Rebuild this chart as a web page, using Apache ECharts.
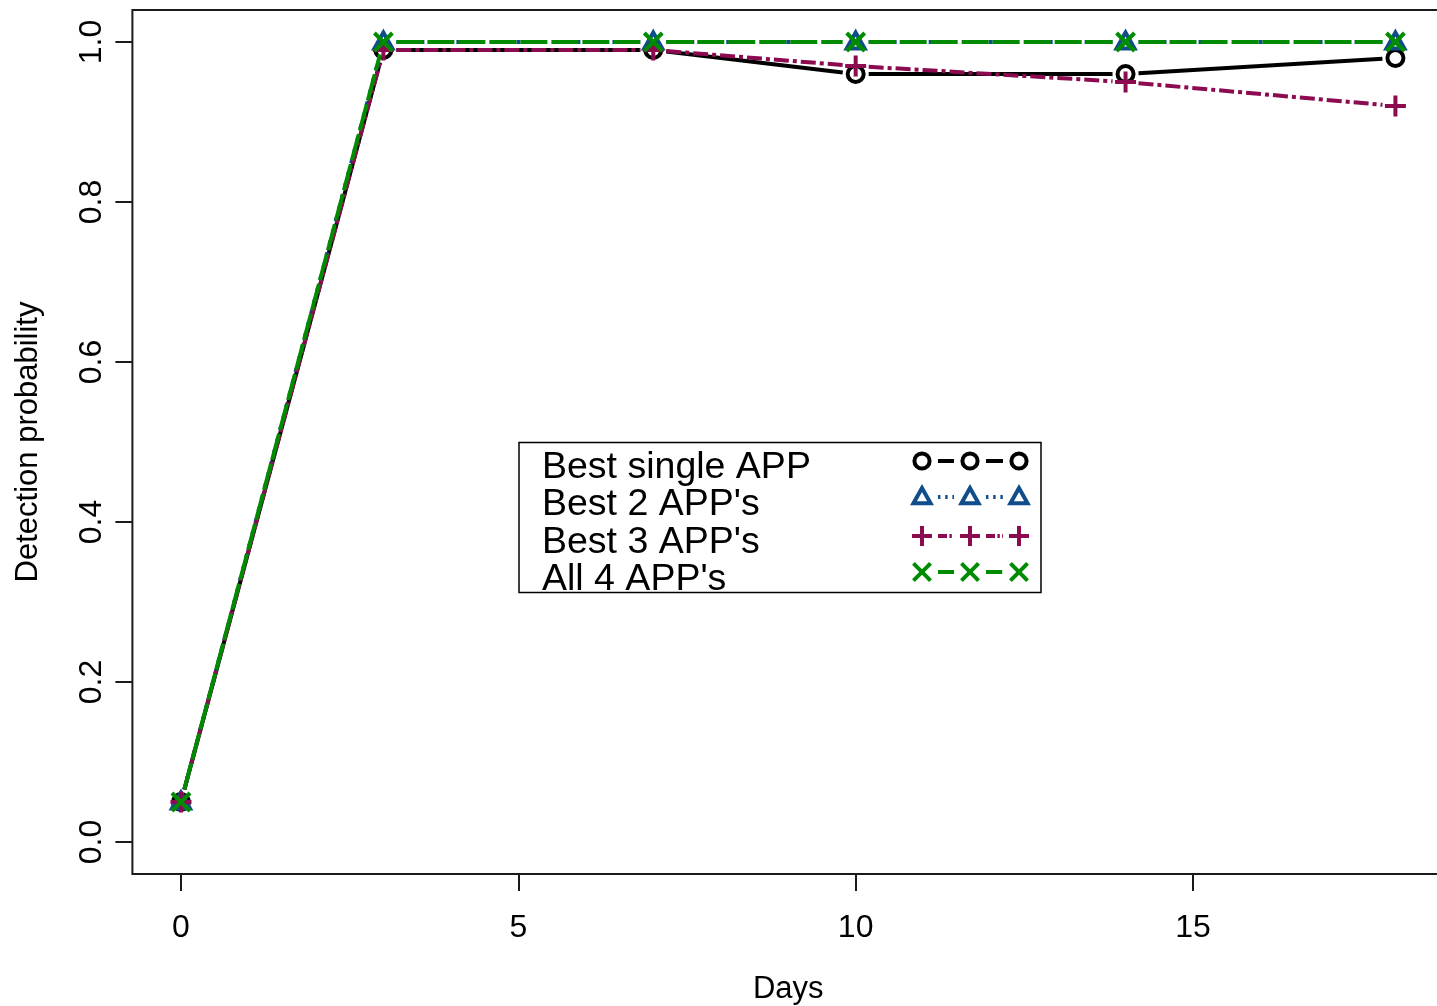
<!DOCTYPE html>
<html>
<head>
<meta charset="utf-8">
<script src="https://cdn.jsdelivr.net/npm/echarts@6/dist/echarts.min.js"></script>
<style>
  html, body { margin: 0; padding: 0; background: #fff; }
  #chart { width: 1437px; height: 1006px; }
</style>
</head>
<body>
<div id="chart"></div>
<script>
// Observation days and detection probabilities per APP combination
const days = [0, 3, 7, 10, 14, 18];
const bestSingle = [0.05, 0.99, 0.99, 0.96, 0.96, 0.98];
const best2 = [0.05, 1.00, 1.00, 1.00, 1.00, 1.00];
const best3 = [0.05, 0.99, 0.99, 0.97, 0.95, 0.92];
const all4 = [0.05, 1.00, 1.00, 1.00, 1.00, 1.00];
const seriesNames = ["Best single APP", "Best 2 APP's", "Best 3 APP's", "All 4 APP's"];
const xTicks = [0, 5, 10, 15];
const yTicks = [0, 0.2, 0.4, 0.6, 0.8, 1.0];

const FONT = '"Liberation Sans", Arial, Helvetica, sans-serif';
const LW = 4;

// Drawing style for each series: colour, dash pattern and point symbol
const styles = [
  { color: '#000000', dash: null, symbol: 'circle' },
  { color: '#104E8B', dash: [4, 8], symbol: 'triangle' },
  { color: '#8B0A50', dash: [15, 4, 4, 4], symbol: 'plus' },
  { color: '#008B00', dash: [27, 4], symbol: 'cross' }
];
const seriesValues = [bestSingle, best2, best3, all4];

function strokeLine(x1, y1, x2, y2, color, z) {
  const el = { type: 'line', shape: { x1: x1, y1: y1, x2: x2, y2: y2 }, style: { stroke: color, lineWidth: LW, lineCap: 'butt' } };
  if (z != null) el.z = z;
  return el;
}

// Open point symbols (outline only), centred on (cx, cy)
function symbolShape(kind, cx, cy, color, s, z) {
  const st = { fill: 'none', stroke: color, lineWidth: LW };
  let el;
  if (kind === 'circle') {
    el = { type: 'circle', shape: { cx: cx, cy: cy, r: 8 * s }, style: st };
  } else if (kind === 'triangle') {
    el = { type: 'polygon', shape: { points: [[cx, cy - 9.5 * s], [cx - 9 * s, cy + 6.5 * s], [cx + 9 * s, cy + 6.5 * s]] }, style: st };
  } else if (kind === 'plus') {
    const h = 10.5 * s;
    el = { type: 'group', children: [
      strokeLine(cx - h, cy, cx + h, cy, color, z),
      strokeLine(cx, cy - h, cx, cy + h, color, z)
    ] };
  } else {
    const h = 9 * s;
    el = { type: 'group', children: [
      strokeLine(cx - h, cy - h, cx + h, cy + h, color, z),
      strokeLine(cx + h, cy - h, cx - h, cy + h, color, z)
    ] };
  }
  if (z != null) el.z = z;
  return el;
}

// Segment from p to q, pulled back by `gap` pixels at both ends (points-and-lines style)
function gappedSegment(p, q, gap, color, dash) {
  const dx = q[0] - p[0], dy = q[1] - p[1];
  const len = Math.sqrt(dx * dx + dy * dy);
  if (len <= 2 * gap) return null;
  const ux = dx / len, uy = dy / len;
  return {
    type: 'line',
    shape: { x1: p[0] + ux * gap, y1: p[1] + uy * gap, x2: q[0] - ux * gap, y2: q[1] - uy * gap },
    style: { stroke: color, lineWidth: LW, lineDash: dash || null, lineCap: 'butt' }
  };
}

function makeSeries(k) {
  const vals = seriesValues[k];
  const sty = styles[k];
  return {
    type: 'custom',
    name: seriesNames[k],
    data: days.map((d, i) => [d, vals[i]]),
    encode: { x: 0, y: 1 },
    z: 2 + k,
    silent: true,
    renderItem: function (params, api) {
      const i = params.dataIndex;
      const p = api.coord([api.value(0), api.value(1)]);
      const children = [];
      if (i > 0) {
        const q = api.coord([days[i - 1], vals[i - 1]]);
        const seg = gappedSegment(q, p, 13, sty.color, sty.dash);
        if (seg) children.push(seg);
      }
      children.push(symbolShape(sty.symbol, p[0], p[1], sty.color, 1));
      return { type: 'group', children: children };
    }
  };
}

// Legend box: names on the left, sample symbols and line styles on the right
function legendGraphics() {
  const els = [];
  els.push({ type: 'rect', shape: { x: 519, y: 442.5, width: 522, height: 150 }, style: { fill: '#fff', stroke: '#000', lineWidth: 1.5 }, z: 100 });
  const rowsText = [468, 505, 543, 580];
  const rowsSym = [461, 497, 536, 572];
  const xs = [922, 970, 1019];
  seriesNames.forEach((name, k) => {
    els.push({ type: 'text', x: 542, y: rowsText[k], style: { text: name, font: '37.5px ' + FONT, fill: '#000', textVerticalAlign: 'middle' }, z: 101 });
    const sty = styles[k];
    for (let j = 0; j < xs.length; j++) {
      els.push(symbolShape(sty.symbol, xs[j], rowsSym[k], sty.color, 0.95, 101));
      if (j < xs.length - 1) {
        const seg = gappedSegment([xs[j], rowsSym[k]], [xs[j + 1], rowsSym[k]], 16, sty.color, sty.dash ? sty.dash.map(v => Math.max(2, v * 0.6)) : null);
        if (seg) { seg.z = 101; els.push(seg); }
      }
    }
  });
  return els;
}

const chart = echarts.init(document.getElementById('chart'), null, { renderer: 'canvas' });
chart.setOption({
  animation: false,
  backgroundColor: '#ffffff',
  textStyle: { fontFamily: FONT, color: '#000' },
  grid: {
    left: 132.4, top: 10, width: 1311.6, height: 864,
    outerBoundsMode: 'none', containLabel: false,
    show: true, borderColor: '#1a1a1a', borderWidth: 2, backgroundColor: 'transparent'
  },
  xAxis: {
    type: 'value', min: -0.72, max: 18.72,
    name: 'Days', nameLocation: 'middle', nameGap: 100,
    nameTextStyle: { fontSize: 31, color: '#000', fontFamily: FONT },
    axisLine: { show: false, onZero: false },
    splitLine: { show: false },
    axisTick: { show: true, customValues: xTicks, length: 17, inside: false, lineStyle: { color: '#1a1a1a', width: 2 } },
    axisLabel: { customValues: xTicks, fontSize: 32, margin: 38, color: '#000', fontFamily: FONT }
  },
  yAxis: {
    type: 'value', min: -0.04, max: 1.04,
    name: 'Detection probability', nameLocation: 'middle', nameRotate: 90, nameGap: 88,
    nameTextStyle: { fontSize: 31, color: '#000', fontFamily: FONT },
    axisLine: { show: false, onZero: false },
    splitLine: { show: false },
    axisTick: { show: true, customValues: yTicks, length: 17, inside: false, lineStyle: { color: '#1a1a1a', width: 2 } },
    axisLabel: { customValues: yTicks, rotate: 90, fontSize: 32, margin: 24, color: '#000', fontFamily: FONT, formatter: v => v.toFixed(1) }
  },
  series: [0, 1, 2, 3].map(makeSeries),
  graphic: legendGraphics()
});
</script>
</body>
</html>
